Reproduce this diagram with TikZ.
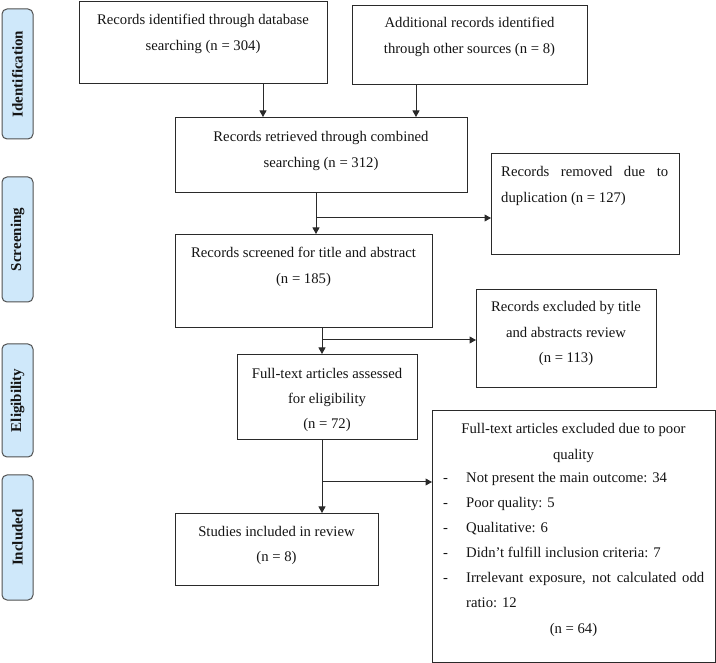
\documentclass[tikz,border=0pt]{standalone}
\usepackage{fontspec}
\setmainfont{Liberation Serif}
\usetikzlibrary{arrows.meta}
\definecolor{sidefill}{HTML}{CFE8FA}
\definecolor{sideline}{HTML}{505050}
\definecolor{boxline}{HTML}{2A2A2A}
\definecolor{txtcol}{HTML}{141414}
\begin{document}
\begin{tikzpicture}[x=1pt,y=-1pt,
  box/.style={draw=boxline, line width=1pt, inner sep=0pt, anchor=north west},
  txt/.style={anchor=base, inner sep=0pt, text=txtcol, font=\fontsize{14.7}{26}\selectfont},
  txtl/.style={txt, anchor=base west},
  side/.style={draw=sideline, fill=sidefill, line width=1pt, rounded corners=5pt,
    rotate=90, minimum height=31, inner sep=0pt, text=txtcol,
    font=\fontsize{15}{18}\selectfont\bfseries},
  arr/.style={draw=boxline, line width=1pt, -{Triangle[length=6.5pt,width=7pt]}}
]
\useasboundingbox (0,0) rectangle (716,663);

% side labels
\node[side, minimum width=130] (s1) at (17.5,74) {Identification};
\node[side, minimum width=125] (s2) at (17.5,239.5) {Screening};
\node[side, minimum width=113] (s3) at (17.5,400.5) {Eligibility};
\node[side, minimum width=125] (s4) at (17.5,537.5) {Included};

% boxes
\node[box, minimum width=248, minimum height=82] (b1) at (79,1) {};
\node[box, minimum width=235, minimum height=79] (b2) at (352,5) {};
\node[box, minimum width=292, minimum height=75] (b3) at (175,117) {};
\node[box, minimum width=188, minimum height=101] (b5) at (491,153) {};
\node[box, minimum width=257, minimum height=93] (b4) at (175,234) {};
\node[box, minimum width=180, minimum height=98] (b7) at (476,289) {};
\node[box, minimum width=180, minimum height=85] (b6) at (237,354) {};
\node[box, minimum width=203, minimum height=72] (b8) at (175,513) {};
\node[box, minimum width=283, minimum height=252] (b9) at (432,410) {};

% texts
\node[txt] (t1a) at (203,24.5) {Records identified through database};
\node[txt] (t1b) at (203,50.5) {searching (n = 304)};
\node[txt] (t2a) at (469.5,27.5) {Additional records identified};
\node[txt] (t2b) at (469.5,53.5) {through other sources (n = 8)};
\node[txt] (t3a) at (321,141.5) {Records retrieved through combined};
\node[txt] (t3b) at (321,167.5) {searching (n = 312)};
\node[txtl] (t5a) at (501,176.5) {\makebox[167pt][s]{Records removed due to}};
\node[txtl] (t5b) at (501,202.5) {duplication (n = 127)};
\node[txt] (t4a) at (303.5,257.5) {Records screened for title and abstract};
\node[txt] (t4b) at (303.5,283.5) {(n = 185)};
\node[txt] (t7a) at (566,311.5) {Records excluded by title};
\node[txt] (t7b) at (566,337.5) {and abstracts review};
\node[txt] (t7c) at (566,362.5) {(n = 113)};
\node[txt] (t6a) at (327,378.5) {Full-text articles assessed};
\node[txt] (t6b) at (327,403.5) {for eligibility};
\node[txt] (t6c) at (327,428.5) {(n = 72)};
\node[txt] (t8a) at (276.5,536.5) {Studies included in review};
\node[txt] (t8b) at (276.5,561.5) {(n = 8)};
\node[txt] (t9a) at (573.5,433.5) {Full-text articles excluded due to poor};
\node[txt] (t9b) at (573.5,459.5) {quality};
\node[txtl] (d1) at (443,482.5) {-};
\node[txtl] (i1) at (466,482.5) {Not present the main outcome: 34};
\node[txtl] (d2) at (443,507.5) {-};
\node[txtl] (i2) at (466,507.5) {Poor quality: 5};
\node[txtl] (d3) at (443,532.5) {-};
\node[txtl] (i3) at (466,532.5) {Qualitative: 6};
\node[txtl] (d4) at (443,557.5) {-};
\node[txtl] (i4) at (466,557.5) {Didn’t fulfill inclusion criteria: 7};
\node[txtl] (d5) at (443,582.5) {-};
\node[txtl] (i5) at (466,582.5) {\makebox[238pt][s]{Irrelevant exposure, not calculated odd}};
\node[txtl] (i6) at (466,607.5) {ratio: 12};
\node[txt] (t9c) at (573.5,633.5) {(n = 64)};

% connectors
\coordinate (c1) at (263,0);
\coordinate (c2) at (416,0);
\coordinate (c3) at (316,0);
\coordinate (c4) at (322,0);
\coordinate (j1) at (316,218);
\coordinate (j2) at (322,340);
\coordinate (j3) at (322,482);
\draw[arr] (b1.south -| c1) -- (b3.north -| c1);
\draw[arr] (b2.south -| c2) -- (b3.north -| c2);
\draw[arr] (b3.south -| c3) -- (b4.north -| c3);
\draw[arr] (j1) -- (j1 -| b5.west);
\draw[arr] (b4.south -| c4) -- (b6.north -| c4);
\draw[arr] (j2) -- (j2 -| b7.west);
\draw[arr] (b6.south -| c4) -- (b8.north -| c4);
\draw[arr] (j3) -- (j3 -| b9.west);
\end{tikzpicture}
\end{document}
